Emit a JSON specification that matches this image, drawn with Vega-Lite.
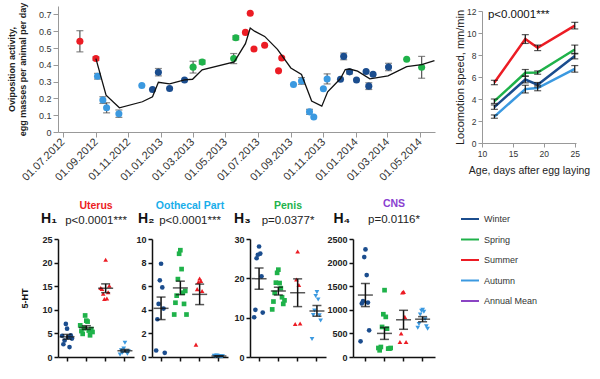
{
"$schema": "https://vega.github.io/schema/vega-lite/v6.json",
"padding": {"left": 7, "top": 0, "right": 2, "bottom": 2},
"background": "white",
"config": {"font": "Liberation Sans", "view": {"stroke": null}, "axis": {"grid": false}},
"resolve": {"scale": {"color": "independent"}, "legend": {"color": "independent"}},
"datasets": {
"ovi": [
{"date":"2012/08/02","value":0.54,"season":"Summer","err":0.063},
{"date":"2012/09/01","value":0.437,"season":"Summer","err":0.01},
{"date":"2012/09/04","value":0.332,"season":"Autumn","err":0.017},
{"date":"2012/09/14","value":0.19,"season":"Autumn","err":0.02},
{"date":"2012/09/21","value":0.144,"season":"Autumn","err":0.03},
{"date":"2012/10/14","value":0.109,"season":"Autumn","err":0.022},
{"date":"2012/11/26","value":0.277,"season":"Autumn"},
{"date":"2012/12/16","value":0.253,"season":"Winter"},
{"date":"2012/12/27","value":0.356,"season":"Winter","err":0.022},
{"date":"2013/01/17","value":0.259,"season":"Winter"},
{"date":"2013/02/14","value":0.31,"season":"Winter"},
{"date":"2013/03/02","value":0.386,"season":"Spring","err":0.035},
{"date":"2013/03/19","value":0.416,"season":"Spring","err":0.012},
{"date":"2013/05/17","value":0.437,"season":"Spring","err":0.03},
{"date":"2013/05/21","value":0.561,"season":"Spring","err":0.012},
{"date":"2013/06/08","value":0.593,"season":"Summer"},
{"date":"2013/06/17","value":0.707,"season":"Summer"},
{"date":"2013/06/24","value":0.494,"season":"Summer"},
{"date":"2013/07/14","value":0.516,"season":"Summer"},
{"date":"2013/08/15","value":0.441,"season":"Summer"},
{"date":"2013/08/09","value":0.364,"season":"Summer"},
{"date":"2013/09/06","value":0.283,"season":"Autumn"},
{"date":"2013/09/21","value":0.304,"season":"Autumn","err":0.02},
{"date":"2013/10/06","value":0.12,"season":"Autumn","err":0.015},
{"date":"2013/10/14","value":0.089,"season":"Autumn"},
{"date":"2013/11/01","value":0.257,"season":"Autumn"},
{"date":"2013/11/08","value":0.316,"season":"Autumn","err":0.03},
{"date":"2013/12/03","value":0.314,"season":"Winter"},
{"date":"2013/12/09","value":0.45,"season":"Winter","err":0.02},
{"date":"2013/12/20","value":0.358,"season":"Winter","err":0.012},
{"date":"2014/01/02","value":0.31,"season":"Winter"},
{"date":"2014/01/20","value":0.36,"season":"Winter"},
{"date":"2014/02/02","value":0.344,"season":"Winter"},
{"date":"2014/01/25","value":0.273,"season":"Winter","err":0.02},
{"date":"2014/03/03","value":0.387,"season":"Winter","err":0.022},
{"date":"2014/04/06","value":0.433,"season":"Spring"},
{"date":"2014/05/04","value":0.385,"season":"Spring","err":0.065}
],
"ma": [
{"date":"2012/09/01","value":0.437},
{"date":"2012/09/20","value":0.219},
{"date":"2012/10/15","value":0.144},
{"date":"2012/11/27","value":0.18},
{"date":"2012/12/16","value":0.21},
{"date":"2012/12/27","value":0.296},
{"date":"2013/01/17","value":0.287},
{"date":"2013/02/14","value":0.31},
{"date":"2013/03/01","value":0.314},
{"date":"2013/03/19","value":0.37},
{"date":"2013/05/18","value":0.417},
{"date":"2013/06/08","value":0.526},
{"date":"2013/06/17","value":0.619},
{"date":"2013/06/25","value":0.6},
{"date":"2013/07/14","value":0.569},
{"date":"2013/08/07","value":0.492},
{"date":"2013/09/01","value":0.381},
{"date":"2013/09/21","value":0.342},
{"date":"2013/10/10","value":0.184},
{"date":"2013/10/29","value":0.154},
{"date":"2013/11/09","value":0.239},
{"date":"2013/12/03","value":0.318},
{"date":"2013/12/12","value":0.372},
{"date":"2013/12/20","value":0.375},
{"date":"2014/01/04","value":0.362},
{"date":"2014/01/27","value":0.316},
{"date":"2014/03/02","value":0.334},
{"date":"2014/04/06","value":0.389},
{"date":"2014/05/04","value":0.401},
{"date":"2014/05/28","value":0.425}
],
"loco": [
{"age":12,"speed":3.26,"err":0.2,"season":"Winter"},
{"age":17,"speed":5.77,"err":0.3,"season":"Winter"},
{"age":19,"speed":5.3,"err":0.2,"season":"Winter"},
{"age":25,"speed":7.9,"err":0.25,"season":"Winter"},
{"age":12,"speed":3.8,"err":0.2,"season":"Spring"},
{"age":17,"speed":6.38,"err":0.3,"season":"Spring"},
{"age":19,"speed":6.4,"err":0.15,"season":"Spring"},
{"age":25,"speed":8.5,"err":0.4,"season":"Spring"},
{"age":12,"speed":5.5,"err":0.2,"season":"Summer"},
{"age":17,"speed":9.45,"err":0.4,"season":"Summer"},
{"age":19,"speed":8.65,"err":0.25,"season":"Summer"},
{"age":25,"speed":10.67,"err":0.3,"season":"Summer"},
{"age":12,"speed":2.4,"err":0.15,"season":"Autumn"},
{"age":17,"speed":4.9,"err":0.35,"season":"Autumn"},
{"age":19,"speed":5.0,"err":0.25,"season":"Autumn"},
{"age":25,"speed":6.74,"err":0.3,"season":"Autumn"}
],
"ht": [
{"organ":"Uterus","season":"Winter","rep":1,"value":6.0},
{"organ":"Uterus","season":"Winter","rep":2,"value":7.0},
{"organ":"Uterus","season":"Winter","rep":3,"value":4.2},
{"organ":"Uterus","season":"Winter","rep":4,"value":3.5},
{"organ":"Uterus","season":"Winter","rep":5,"value":2.1},
{"organ":"Uterus","season":"Winter","rep":6,"value":2.7},
{"organ":"Uterus","season":"Winter","rep":7,"value":4.6},
{"organ":"Uterus","season":"Winter","rep":8,"value":4.5},
{"organ":"Uterus","season":"Winter","rep":9,"value":3.9},
{"organ":"Uterus","season":"Spring","rep":1,"value":7.7},
{"organ":"Uterus","season":"Spring","rep":2,"value":8.8},
{"organ":"Uterus","season":"Spring","rep":3,"value":7.5},
{"organ":"Uterus","season":"Spring","rep":4,"value":6.1},
{"organ":"Uterus","season":"Spring","rep":5,"value":5.6},
{"organ":"Uterus","season":"Spring","rep":6,"value":4.9},
{"organ":"Uterus","season":"Spring","rep":7,"value":4.6},
{"organ":"Uterus","season":"Spring","rep":8,"value":5.5},
{"organ":"Uterus","season":"Spring","rep":9,"value":5.9},
{"organ":"Uterus","season":"Spring","rep":10,"value":6.7},
{"organ":"Uterus","season":"Spring","rep":11,"value":5.3},
{"organ":"Uterus","season":"Summer","rep":1,"value":20.6},
{"organ":"Uterus","season":"Summer","rep":2,"value":12.3},
{"organ":"Uterus","season":"Summer","rep":3,"value":12.4},
{"organ":"Uterus","season":"Summer","rep":4,"value":13.4},
{"organ":"Uterus","season":"Summer","rep":5,"value":13.7},
{"organ":"Uterus","season":"Summer","rep":6,"value":14.4},
{"organ":"Uterus","season":"Summer","rep":7,"value":15.1},
{"organ":"Uterus","season":"Summer","rep":8,"value":14.6},
{"organ":"Uterus","season":"Autumn","rep":1,"value":3.0},
{"organ":"Uterus","season":"Autumn","rep":2,"value":1.8},
{"organ":"Uterus","season":"Autumn","rep":3,"value":1.1},
{"organ":"Uterus","season":"Autumn","rep":4,"value":0.9},
{"organ":"Uterus","season":"Autumn","rep":5,"value":0.7},
{"organ":"Uterus","season":"Autumn","rep":6,"value":1.4},
{"organ":"Uterus","season":"Autumn","rep":7,"value":1.2},
{"organ":"Uterus","season":"Autumn","rep":8,"value":0.5},
{"organ":"Oothecal Part","season":"Winter","rep":1,"value":7.9},
{"organ":"Oothecal Part","season":"Winter","rep":2,"value":6.5},
{"organ":"Oothecal Part","season":"Winter","rep":3,"value":5.9},
{"organ":"Oothecal Part","season":"Winter","rep":4,"value":4.5},
{"organ":"Oothecal Part","season":"Winter","rep":5,"value":4.1},
{"organ":"Oothecal Part","season":"Winter","rep":6,"value":3.2},
{"organ":"Oothecal Part","season":"Winter","rep":7,"value":0.35},
{"organ":"Oothecal Part","season":"Winter","rep":8,"value":0.55},
{"organ":"Oothecal Part","season":"Spring","rep":1,"value":9.05},
{"organ":"Oothecal Part","season":"Spring","rep":2,"value":8.75},
{"organ":"Oothecal Part","season":"Spring","rep":3,"value":7.45},
{"organ":"Oothecal Part","season":"Spring","rep":4,"value":6.6},
{"organ":"Oothecal Part","season":"Spring","rep":5,"value":5.45},
{"organ":"Oothecal Part","season":"Spring","rep":6,"value":5.2},
{"organ":"Oothecal Part","season":"Spring","rep":7,"value":4.5},
{"organ":"Oothecal Part","season":"Spring","rep":8,"value":4.6},
{"organ":"Oothecal Part","season":"Spring","rep":9,"value":5.6},
{"organ":"Oothecal Part","season":"Spring","rep":10,"value":3.6},
{"organ":"Oothecal Part","season":"Spring","rep":11,"value":3.6},
{"organ":"Oothecal Part","season":"Summer","rep":1,"value":6.65},
{"organ":"Oothecal Part","season":"Summer","rep":2,"value":6.35},
{"organ":"Oothecal Part","season":"Summer","rep":3,"value":6.45},
{"organ":"Oothecal Part","season":"Summer","rep":4,"value":5.75},
{"organ":"Oothecal Part","season":"Summer","rep":5,"value":5.6},
{"organ":"Oothecal Part","season":"Summer","rep":6,"value":1.05},
{"organ":"Oothecal Part","season":"Autumn","rep":1,"value":0.08},
{"organ":"Oothecal Part","season":"Autumn","rep":2,"value":0.1},
{"organ":"Oothecal Part","season":"Autumn","rep":3,"value":0.05},
{"organ":"Oothecal Part","season":"Autumn","rep":4,"value":0.12},
{"organ":"Oothecal Part","season":"Autumn","rep":5,"value":0.07},
{"organ":"Oothecal Part","season":"Autumn","rep":6,"value":0.09},
{"organ":"Oothecal Part","season":"Autumn","rep":7,"value":0.06},
{"organ":"Oothecal Part","season":"Autumn","rep":8,"value":0.1},
{"organ":"Penis","season":"Winter","rep":1,"value":28.1},
{"organ":"Penis","season":"Winter","rep":2,"value":26.0},
{"organ":"Penis","season":"Winter","rep":3,"value":26.3},
{"organ":"Penis","season":"Winter","rep":4,"value":25.1},
{"organ":"Penis","season":"Winter","rep":5,"value":20.5},
{"organ":"Penis","season":"Winter","rep":6,"value":12.0},
{"organ":"Penis","season":"Winter","rep":7,"value":11.3},
{"organ":"Penis","season":"Winter","rep":8,"value":10.1},
{"organ":"Penis","season":"Spring","rep":1,"value":22.2},
{"organ":"Penis","season":"Spring","rep":2,"value":21.4},
{"organ":"Penis","season":"Spring","rep":3,"value":18.8},
{"organ":"Penis","season":"Spring","rep":4,"value":18.9},
{"organ":"Penis","season":"Spring","rep":5,"value":17.5},
{"organ":"Penis","season":"Spring","rep":6,"value":16.3},
{"organ":"Penis","season":"Spring","rep":7,"value":15.2},
{"organ":"Penis","season":"Spring","rep":8,"value":14.1},
{"organ":"Penis","season":"Spring","rep":9,"value":13.5},
{"organ":"Penis","season":"Spring","rep":10,"value":12.1},
{"organ":"Penis","season":"Spring","rep":11,"value":14.4},
{"organ":"Penis","season":"Summer","rep":1,"value":26.8},
{"organ":"Penis","season":"Summer","rep":2,"value":19.7},
{"organ":"Penis","season":"Summer","rep":3,"value":18.3},
{"organ":"Penis","season":"Summer","rep":4,"value":8.4},
{"organ":"Penis","season":"Summer","rep":5,"value":8.5},
{"organ":"Penis","season":"Autumn","rep":1,"value":16.5},
{"organ":"Penis","season":"Autumn","rep":2,"value":15.5},
{"organ":"Penis","season":"Autumn","rep":3,"value":14.6},
{"organ":"Penis","season":"Autumn","rep":4,"value":11.8},
{"organ":"Penis","season":"Autumn","rep":5,"value":10.6},
{"organ":"Penis","season":"Autumn","rep":6,"value":10.7},
{"organ":"Penis","season":"Autumn","rep":7,"value":9.3},
{"organ":"Penis","season":"Autumn","rep":8,"value":4.6},
{"organ":"CNS","season":"Winter","rep":1,"value":2280},
{"organ":"CNS","season":"Winter","rep":2,"value":2117},
{"organ":"CNS","season":"Winter","rep":3,"value":1735},
{"organ":"CNS","season":"Winter","rep":4,"value":1182},
{"organ":"CNS","season":"Winter","rep":5,"value":1154},
{"organ":"CNS","season":"Winter","rep":6,"value":1133},
{"organ":"CNS","season":"Winter","rep":7,"value":566},
{"organ":"CNS","season":"Winter","rep":8,"value":333},
{"organ":"CNS","season":"Spring","rep":1,"value":1416},
{"organ":"CNS","season":"Spring","rep":2,"value":906},
{"organ":"CNS","season":"Spring","rep":3,"value":850},
{"organ":"CNS","season":"Spring","rep":4,"value":637},
{"organ":"CNS","season":"Spring","rep":5,"value":600},
{"organ":"CNS","season":"Spring","rep":6,"value":212},
{"organ":"CNS","season":"Spring","rep":7,"value":177},
{"organ":"CNS","season":"Spring","rep":8,"value":142},
{"organ":"CNS","season":"Spring","rep":9,"value":177},
{"organ":"CNS","season":"Spring","rep":10,"value":191},
{"organ":"CNS","season":"Spring","rep":11,"value":191},
{"organ":"CNS","season":"Summer","rep":1,"value":1380},
{"organ":"CNS","season":"Summer","rep":2,"value":1366},
{"organ":"CNS","season":"Summer","rep":3,"value":850},
{"organ":"CNS","season":"Summer","rep":4,"value":496},
{"organ":"CNS","season":"Summer","rep":5,"value":319},
{"organ":"CNS","season":"Summer","rep":6,"value":319},
{"organ":"CNS","season":"Autumn","rep":1,"value":1000},
{"organ":"CNS","season":"Autumn","rep":2,"value":980},
{"organ":"CNS","season":"Autumn","rep":3,"value":960},
{"organ":"CNS","season":"Autumn","rep":4,"value":900},
{"organ":"CNS","season":"Autumn","rep":5,"value":800},
{"organ":"CNS","season":"Autumn","rep":6,"value":700},
{"organ":"CNS","season":"Autumn","rep":7,"value":650},
{"organ":"CNS","season":"Autumn","rep":8,"value":620},
{"organ":"CNS","season":"Autumn","rep":9,"value":600}
]
},
"columns": 1,
"align": "none",
"spacing": 16,
"concat": [
{"concat": [
 {
  "width": 377, "height": 126,
  "layer": [
   {"data": {"name": "ovi"},
    "transform": [{"filter": "isValid(datum.err)"}],
    "mark": {"type": "errorbar", "ticks": {"size": 7}, "color": "#555", "thickness": 1.2},
    "encoding": {
     "x": {"field": "date", "type": "temporal",
      "scale": {"domain": [{"year": 2012, "month": 6, "date": 22}, {"year": 2014, "month": 5, "date": 29}]},
      "axis": {"title": null, "format": "%d.%m.%Y", "labelAngle": -45, "tickCount": {"interval": "month", "step": 2}, "labelFontSize": 11, "labelColor": "#333", "domainColor": "#999", "tickColor": "#999", "tickSize": 5, "labelPadding": 3, "labelFlush": false, "labelOverlap": false, "labelAlign": "right", "labelBaseline": "middle"}},
     "y": {"field": "value", "type": "quantitative",
      "scale": {"domain": [0, 0.75], "nice": false},
      "axis": {"values": [0, 0.1, 0.2, 0.3, 0.4, 0.5, 0.6, 0.7], "format": "~g", "title": ["Oviposition activity,", "egg masses per  animal per day"], "titleFontSize": 9, "titleFontWeight": "bold", "titleColor": "#222", "titleLineHeight": 11, "titlePadding": 11, "labelFontSize": 9, "labelColor": "#333", "domainColor": "#999", "tickColor": "#999", "tickSize": 5, "labelPadding": 2}},
     "yError": {"field": "err"}
    }},
   {"data": {"name": "ovi"},
    "mark": {"type": "point", "filled": true, "size": 50, "opacity": 1},
    "encoding": {
     "x": {"field": "date", "type": "temporal",
      "axis": {"title": null, "format": "%d.%m.%Y", "labelAngle": -45, "tickCount": {"interval": "month", "step": 2}, "labelFontSize": 11, "labelColor": "#333", "domainColor": "#999", "tickColor": "#999", "tickSize": 5, "labelPadding": 3, "labelFlush": false, "labelOverlap": false, "labelAlign": "right", "labelBaseline": "middle"}},
     "y": {"field": "value", "type": "quantitative",
      "axis": {"values": [0, 0.1, 0.2, 0.3, 0.4, 0.5, 0.6, 0.7], "format": "~g", "title": ["Oviposition activity,", "egg masses per  animal per day"], "titleFontSize": 9, "titleFontWeight": "bold", "titleColor": "#222", "titleLineHeight": 11, "titlePadding": 11, "labelFontSize": 9, "labelColor": "#333", "domainColor": "#999", "tickColor": "#999", "tickSize": 5, "labelPadding": 2}},
     "color": {"field": "season", "type": "nominal", "legend": null,
      "scale": {"domain": ["Winter", "Spring", "Summer", "Autumn", "Annual Mean"], "range": ["#1b4d8e", "#1fb24a", "#ec1c24", "#3b99e0", "#8b44c4"]}}
    }},
   {"data": {"name": "ma"},
    "mark": {"type": "line", "color": "#111", "strokeWidth": 1.3},
    "encoding": {
     "x": {"field": "date", "type": "temporal",
      "axis": {"title": null, "format": "%d.%m.%Y", "labelAngle": -45, "tickCount": {"interval": "month", "step": 2}, "labelFontSize": 11, "labelColor": "#333", "domainColor": "#999", "tickColor": "#999", "tickSize": 5, "labelPadding": 3, "labelFlush": false, "labelOverlap": false, "labelAlign": "right", "labelBaseline": "middle"}},
     "y": {"field": "value", "type": "quantitative",
      "axis": {"values": [0, 0.1, 0.2, 0.3, 0.4, 0.5, 0.6, 0.7], "format": "~g", "title": ["Oviposition activity,", "egg masses per  animal per day"], "titleFontSize": 9, "titleFontWeight": "bold", "titleColor": "#222", "titleLineHeight": 11, "titlePadding": 11, "labelFontSize": 9, "labelColor": "#333", "domainColor": "#999", "tickColor": "#999", "tickSize": 5, "labelPadding": 2}}
    }}
  ]
 },
 {"concat": [
  {"width": 94, "height": 1, "data": {"values": []}, "mark": "point"},
  {
   "width": 94, "height": 132,
   "data": {"name": "loco"},
   "encoding": {
    "x": {"field": "age", "type": "quantitative", "scale": {"domain": [10, 25.2], "nice": false, "zero": false},
     "axis": {"values": [10, 15, 20, 25], "title": "Age, days after egg laying", "titleFontSize": 10.5, "titleFontWeight": "normal", "titleColor": "#222", "titlePadding": 8, "labelFontSize": 8.5, "labelColor": "#333", "domainColor": "#999", "tickColor": "#999", "tickSize": 4, "labelFlush": false}},
    "y": {"field": "speed", "type": "quantitative", "scale": {"domain": [0, 12], "nice": false},
     "axis": {"values": [0, 2, 4, 6, 8, 10, 12], "title": "Locomotion speed, mm/min", "titleFontSize": 11, "titleFontWeight": "normal", "titleColor": "#222", "titlePadding": 1, "labelFontSize": 8.5, "labelColor": "#333", "domainColor": "#999", "tickColor": "#999", "tickSize": 4, "labelPadding": 2}}
   },
   "layer": [
    {"mark": {"type": "line", "strokeWidth": 2.5},
     "encoding": {
      "color": {"field": "season", "type": "nominal", "legend": null,
       "scale": {"domain": ["Winter", "Spring", "Summer", "Autumn", "Annual Mean"], "range": ["#1b4d8e", "#1fb24a", "#ec1c24", "#3b99e0", "#8b44c4"]}}
     }},
    {"mark": {"type": "errorbar", "ticks": {"size": 7}, "color": "#111", "thickness": 1.2},
     "encoding": {"yError": {"field": "err"}}},
    {"data": {"values": [{"age": 10.95, "speed": 11.35}]},
     "mark": {"type": "text", "text": "p<0.0001***", "align": "left", "baseline": "alphabetic", "fontSize": 11.5, "color": "#111"}}
   ]
  }
 ], "columns": 1, "spacing": 0}
], "columns": 2, "align": "none", "spacing": 16},
{"concat": [
 {
  "width": 76, "height": 118,
  "title": {"text": "Uterus", "subtitle": "p<0.0001***", "color": "#ec1c24", "fontSize": 10.5, "fontWeight": "bold", "subtitleFontSize": 11.5, "subtitleColor": "#222", "subtitlePadding": 4, "offset": -15, "anchor": "middle"},
  "encoding": {
   "x": {"field": "season", "type": "nominal", "scale": {"domain": ["Winter", "Spring", "Summer", "Autumn"], "paddingInner": 0.3, "paddingOuter": 0.12},
    "axis": {"title": null, "labels": false, "domainColor": "#111", "domainWidth": 1.5, "tickColor": "#111", "tickWidth": 1.5, "tickSize": 4}},
   "y": {"field": "value", "type": "quantitative", "scale": {"domain": [0, 25], "nice": false},
    "axis": {"values": [0, 5, 10, 15, 20, 25], "title": "5-HT", "titleFontSize": 9, "titleFontWeight": "bold", "titleColor": "#111", "titlePadding": 12, "labelFontSize": 9, "labelFontWeight": "bold", "labelColor": "#222", "domainColor": "#111", "domainWidth": 1.5, "tickColor": "#111", "tickWidth": 1.5, "tickSize": 4, "labelPadding": 2}}
  },
  "layer": [
   {"data": {"name": "ht"}, "transform": [{"filter": "datum.organ === 'Uterus'"}],
    "mark": {"type": "point", "filled": true, "size": 22, "opacity": 1},
    "encoding": {
     "xOffset": {"field": "rep", "type": "nominal", "scale": {"domain": [10, 8, 6, 4, 2, 1, 3, 5, 7, 9, 11]}},
     "color": {"field": "season", "type": "nominal", "legend": null,
      "scale": {"domain": ["Winter", "Spring", "Summer", "Autumn", "Annual Mean"], "range": ["#1b4d8e", "#1fb24a", "#ec1c24", "#3b99e0", "#8b44c4"]}},
     "shape": {"field": "season", "type": "nominal", "legend": null, "scale": {"domain": ["Winter", "Spring", "Summer", "Autumn"], "range": ["circle", "square", "triangle-up", "triangle-down"]}}
    }},
   {"data": {"name": "ht"}, "transform": [{"filter": "datum.organ === 'Uterus'"}],
    "mark": {"type": "errorbar", "extent": "stderr", "ticks": {"size": 9}, "color": "#111", "thickness": 1.5}},
   {"data": {"name": "ht"}, "transform": [{"filter": "datum.organ === 'Uterus'"}, {"aggregate": [{"op": "mean", "field": "value", "as": "value"}], "groupby": ["season"]}],
    "mark": {"type": "tick", "color": "#111", "thickness": 1.5, "size": 15}},
   {"data": {"values": [{"season": "Winter", "value": 28.4}]},
    "mark": {"type": "text", "text": "H₁", "fontSize": 14, "fontWeight": "bold", "align": "left", "baseline": "alphabetic", "dx": -26, "color": "#111"}}
  ]
 },
 {"concat": [
  {
   "width": 76, "height": 118,
   "title": {"text": "Oothecal Part", "subtitle": "p<0.0001***", "color": "#19aeea", "fontSize": 10.5, "fontWeight": "bold", "subtitleFontSize": 11.5, "subtitleColor": "#222", "subtitlePadding": 4, "offset": -15, "anchor": "middle"},
   "encoding": {
    "x": {"field": "season", "type": "nominal", "scale": {"domain": ["Winter", "Spring", "Summer", "Autumn"], "paddingInner": 0.3, "paddingOuter": 0.12},
     "axis": {"title": null, "labels": false, "domainColor": "#111", "domainWidth": 1.5, "tickColor": "#111", "tickWidth": 1.5, "tickSize": 4}},
    "y": {"field": "value", "type": "quantitative", "scale": {"domain": [0, 10], "nice": false},
     "axis": {"values": [0, 2, 4, 6, 8, 10], "title": null, "labelFontSize": 9, "labelFontWeight": "bold", "labelColor": "#222", "domainColor": "#111", "domainWidth": 1.5, "tickColor": "#111", "tickWidth": 1.5, "tickSize": 4, "labelPadding": 2}}
   },
   "layer": [
    {"data": {"name": "ht"}, "transform": [{"filter": "datum.organ === 'Oothecal Part'"}],
     "mark": {"type": "point", "filled": true, "size": 22, "opacity": 1},
     "encoding": {
      "xOffset": {"field": "rep", "type": "nominal", "scale": {"domain": [10, 8, 6, 4, 2, 1, 3, 5, 7, 9, 11]}},
      "color": {"field": "season", "type": "nominal", "legend": null,
       "scale": {"domain": ["Winter", "Spring", "Summer", "Autumn", "Annual Mean"], "range": ["#1b4d8e", "#1fb24a", "#ec1c24", "#3b99e0", "#8b44c4"]}},
      "shape": {"field": "season", "type": "nominal", "legend": null, "scale": {"domain": ["Winter", "Spring", "Summer", "Autumn"], "range": ["circle", "square", "triangle-up", "triangle-down"]}}
     }},
    {"data": {"name": "ht"}, "transform": [{"filter": "datum.organ === 'Oothecal Part'"}],
     "mark": {"type": "errorbar", "extent": "stderr", "ticks": {"size": 9}, "color": "#111", "thickness": 1.5}},
    {"data": {"name": "ht"}, "transform": [{"filter": "datum.organ === 'Oothecal Part'"}, {"aggregate": [{"op": "mean", "field": "value", "as": "value"}], "groupby": ["season"]}],
     "mark": {"type": "tick", "color": "#111", "thickness": 1.5, "size": 15}},
    {"data": {"values": [{"season": "Winter", "value": 11.36}]},
     "mark": {"type": "text", "text": "H₂", "fontSize": 14, "fontWeight": "bold", "align": "left", "baseline": "alphabetic", "dx": -23, "color": "#111"}}
   ]
  },
  {"concat": [
   {
    "width": 76, "height": 118,
    "title": {"text": "Penis", "subtitle": "p=0.0377*", "color": "#22b24c", "fontSize": 10.5, "fontWeight": "bold", "subtitleFontSize": 11.5, "subtitleColor": "#222", "subtitlePadding": 4, "offset": -15, "anchor": "middle"},
    "encoding": {
     "x": {"field": "season", "type": "nominal", "scale": {"domain": ["Winter", "Spring", "Summer", "Autumn"], "paddingInner": 0.3, "paddingOuter": 0.12},
      "axis": {"title": null, "labels": false, "domainColor": "#111", "domainWidth": 1.5, "tickColor": "#111", "tickWidth": 1.5, "tickSize": 4}},
     "y": {"field": "value", "type": "quantitative", "scale": {"domain": [0, 30], "nice": false},
      "axis": {"values": [0, 10, 20, 30], "title": null, "labelFontSize": 9, "labelFontWeight": "bold", "labelColor": "#222", "domainColor": "#111", "domainWidth": 1.5, "tickColor": "#111", "tickWidth": 1.5, "tickSize": 4, "labelPadding": 2}}
    },
    "layer": [
     {"data": {"name": "ht"}, "transform": [{"filter": "datum.organ === 'Penis'"}],
      "mark": {"type": "point", "filled": true, "size": 22, "opacity": 1},
      "encoding": {
       "xOffset": {"field": "rep", "type": "nominal", "scale": {"domain": [10, 8, 6, 4, 2, 1, 3, 5, 7, 9, 11]}},
       "color": {"field": "season", "type": "nominal", "legend": null,
        "scale": {"domain": ["Winter", "Spring", "Summer", "Autumn", "Annual Mean"], "range": ["#1b4d8e", "#1fb24a", "#ec1c24", "#3b99e0", "#8b44c4"]}},
       "shape": {"field": "season", "type": "nominal", "legend": null, "scale": {"domain": ["Winter", "Spring", "Summer", "Autumn"], "range": ["circle", "square", "triangle-up", "triangle-down"]}}
      }},
     {"data": {"name": "ht"}, "transform": [{"filter": "datum.organ === 'Penis'"}],
      "mark": {"type": "errorbar", "extent": "stderr", "ticks": {"size": 9}, "color": "#111", "thickness": 1.5}},
     {"data": {"name": "ht"}, "transform": [{"filter": "datum.organ === 'Penis'"}, {"aggregate": [{"op": "mean", "field": "value", "as": "value"}], "groupby": ["season"]}],
      "mark": {"type": "tick", "color": "#111", "thickness": 1.5, "size": 15}},
     {"data": {"values": [{"season": "Winter", "value": 34.1}]},
      "mark": {"type": "text", "text": "H₃", "fontSize": 14, "fontWeight": "bold", "align": "left", "baseline": "alphabetic", "dx": -25, "color": "#111"}}
    ]
   },
   {
    "width": 82, "height": 118,
    "title": {"text": "CNS", "subtitle": "p=0.0116*", "color": "#8a3fd0", "fontSize": 10.5, "fontWeight": "bold", "subtitleFontSize": 11.5, "subtitleColor": "#222", "subtitlePadding": 4, "offset": -15, "anchor": "middle"},
    "encoding": {
     "x": {"field": "season", "type": "nominal", "scale": {"domain": ["Winter", "Spring", "Summer", "Autumn"], "paddingInner": 0.3, "paddingOuter": 0.3},
      "axis": {"title": null, "labels": false, "domainColor": "#111", "domainWidth": 1.5, "tickColor": "#111", "tickWidth": 1.5, "tickSize": 4}},
     "y": {"field": "value", "type": "quantitative", "scale": {"domain": [0, 2500], "nice": false},
      "axis": {"values": [0, 500, 1000, 1500, 2000, 2500], "format": "d", "title": null, "labelFontSize": 9, "labelFontWeight": "bold", "labelColor": "#222", "domainColor": "#111", "domainWidth": 1.5, "tickColor": "#111", "tickWidth": 1.5, "tickSize": 4, "labelPadding": 2}}
    },
    "layer": [
     {"data": {"name": "ht"}, "transform": [{"filter": "datum.organ === 'CNS'"}],
      "mark": {"type": "point", "filled": true, "size": 22, "opacity": 1},
      "encoding": {
       "xOffset": {"field": "rep", "type": "nominal", "scale": {"domain": [10, 8, 6, 4, 2, 1, 3, 5, 7, 9, 11]}},
       "color": {"field": "season", "type": "nominal",
        "scale": {"domain": ["Winter", "Spring", "Summer", "Autumn", "Annual Mean"], "range": ["#1b4d8e", "#1fb24a", "#ec1c24", "#3b99e0", "#8b44c4"]},
        "legend": {"title": null, "orient": "none", "legendX": 108, "legendY": -29, "padding": 0, "symbolType": "M-1,-0.11H1V0.11H-1Z", "symbolSize": 324, "symbolStrokeWidth": 0, "symbolOpacity": 1, "labelFontSize": 9, "labelColor": "#333", "labelOffset": 5, "rowPadding": 6.5, "values": ["Winter", "Spring", "Summer", "Autumn", "Annual Mean"]}},
       "shape": {"field": "season", "type": "nominal", "legend": null, "scale": {"domain": ["Winter", "Spring", "Summer", "Autumn"], "range": ["circle", "square", "triangle-up", "triangle-down"]}}
      }},
     {"data": {"name": "ht"}, "transform": [{"filter": "datum.organ === 'CNS'"}],
      "mark": {"type": "errorbar", "extent": "stderr", "ticks": {"size": 9}, "color": "#111", "thickness": 1.5}},
     {"data": {"name": "ht"}, "transform": [{"filter": "datum.organ === 'CNS'"}, {"aggregate": [{"op": "mean", "field": "value", "as": "value"}], "groupby": ["season"]}],
      "mark": {"type": "tick", "color": "#111", "thickness": 1.5, "size": 15}},
     {"data": {"values": [{"season": "Winter", "value": 2839}]},
      "mark": {"type": "text", "text": "H₄", "fontSize": 14, "fontWeight": "bold", "align": "left", "baseline": "alphabetic", "dx": -32, "color": "#111"}}
    ]
   }
  ], "columns": 2, "align": "none", "spacing": 0, "resolve": {"scale": {"color": "independent"}, "legend": {"color": "independent"}}}
 ], "columns": 2, "align": "none", "spacing": 5, "resolve": {"scale": {"color": "independent"}, "legend": {"color": "independent"}}}
], "columns": 2, "align": "none", "spacing": 1, "resolve": {"scale": {"color": "independent"}, "legend": {"color": "independent"}}}
]
}
